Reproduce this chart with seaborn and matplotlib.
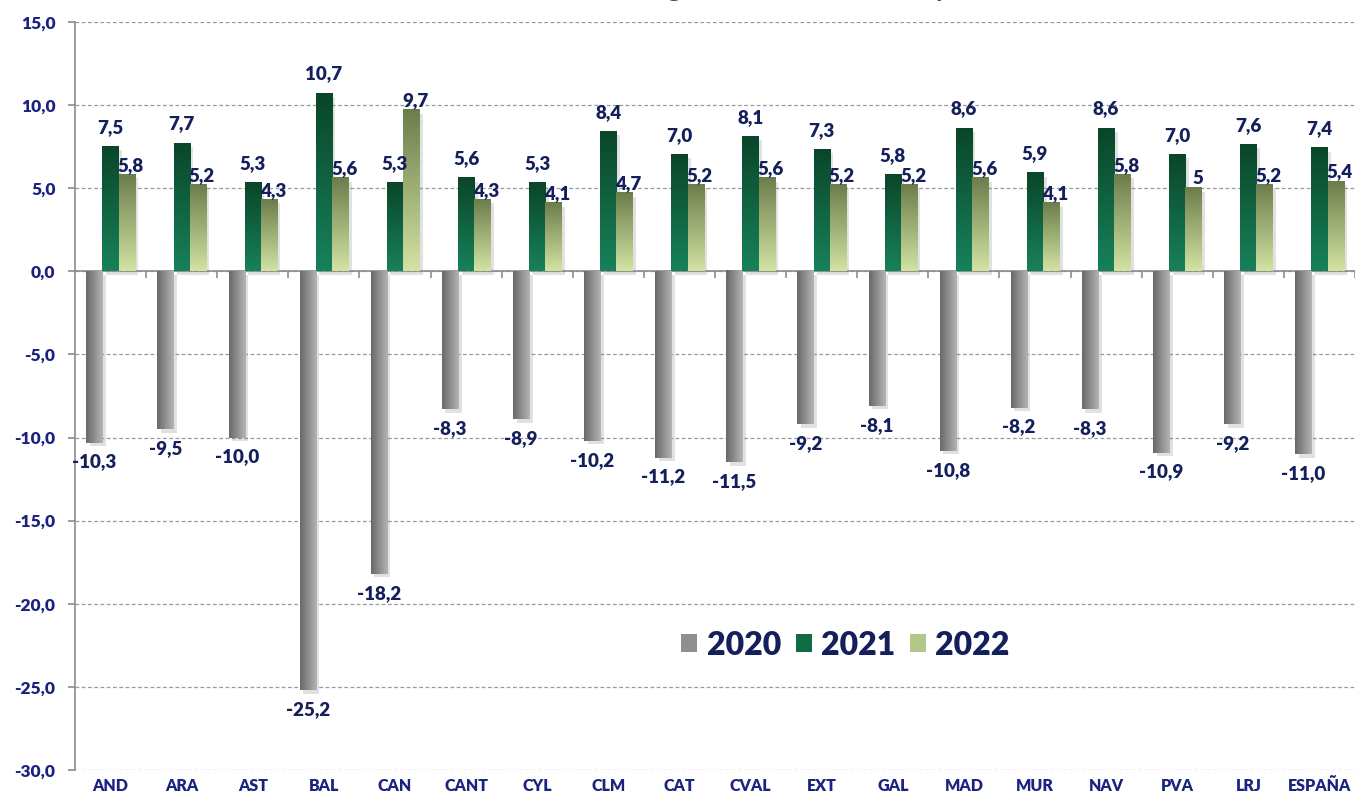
import numpy as np
import pandas as pd
import matplotlib
matplotlib.use("Agg")
import matplotlib.pyplot as plt
import matplotlib.patheffects as pe
from matplotlib.colors import LinearSegmentedColormap
from matplotlib.patches import Patch
import seaborn as sns

regiones = ["AND", "ARA", "AST", "BAL", "CAN", "CANT", "CYL", "CLM", "CAT",
            "CVAL", "EXT", "GAL", "MAD", "MUR", "NAV", "PVA", "LRJ", "ESPAÑA"]
years = ["2020", "2021", "2022"]
y2020 = [-10.3, -9.5, -10.0, -25.2, -18.2, -8.3, -8.9, -10.2, -11.2,
         -11.5, -9.2, -8.1, -10.8, -8.2, -8.3, -10.9, -9.2, -11.0]
y2021 = [7.5, 7.7, 5.3, 10.7, 5.3, 5.6, 5.3, 8.4, 7.0,
         8.1, 7.3, 5.8, 8.6, 5.9, 8.6, 7.0, 7.6, 7.4]
y2022 = [5.8, 5.2, 4.3, 5.6, 9.7, 4.3, 4.1, 4.7, 5.2,
         5.6, 5.2, 5.2, 5.6, 4.1, 5.8, 5.0, 5.2, 5.4]
yticks = [15, 10, 5, 0, -5, -10, -15, -20, -25, -30]
titulo = "Crecimiento económico regional en 2020, 2021 y 2022"


def fmt(v):
    return f"{v:.1f}".replace(".", ",")


lab20 = [fmt(v) for v in y2020]
lab21 = [fmt(v) for v in y2021]
lab22 = [fmt(v) for v in y2022]
lab22[15] = "5"  # en el original sale sin decimal

df = pd.DataFrame({
    "region": regiones * 3,
    "year": [y for y in years for _ in regiones],
    "valor": y2020 + y2021 + y2022,
})

sns.set_theme(style="white")
plt.rcParams["font.family"] = ["Lato", "DejaVu Sans"]

navy = "#14205c"
tickblue = "#1a2380"
axisgray = "#8c8c8c"
W = "heavy"

fig = plt.figure(figsize=(13.57, 7.96), dpi=100)
ax = fig.add_axes([75 / 1357, 26 / 796, 1280 / 1357, 748 / 796])

sns.barplot(data=df, x="region", y="valor", hue="year", hue_order=years,
            palette=["#8a8a8a", "#0f6b42", "#aabd7e"], width=0.68, gap=0,
            saturation=1, errorbar=None, legend=False, ax=ax)

# degradados como en Excel
cmaps = [LinearSegmentedColormap.from_list("g20", ["#686868", "#b5b5b5"]),
         LinearSegmentedColormap.from_list("g21", ["#0a4529", "#17825a"]),
         LinearSegmentedColormap.from_list("g22", ["#6c7d4b", "#d2e3a3"])]
grad_h = np.linspace(0, 1, 256).reshape(1, -1)
grad_v = np.linspace(0, 1, 256).reshape(-1, 1)
for i, cont in enumerate(ax.containers):
    for bar in cont:
        x0, w = bar.get_x(), bar.get_width()
        y0, h = bar.get_y(), bar.get_height()
        lo, hi = min(y0, y0 + h), max(y0, y0 + h)
        bar.set_facecolor("none")
        bar.set_linewidth(0)
        bar.set_path_effects([pe.SimplePatchShadow(offset=(2.5, -2.5), shadow_rgbFace="#7a7a7a", alpha=0.22)])
        img = grad_h if i == 0 else grad_v
        ax.imshow(img, cmap=cmaps[i], extent=[x0, x0 + w, lo, hi], origin="upper",
                  aspect="auto", interpolation="bicubic", zorder=3)

# etiquetas de datos
for i, (cont, labs) in enumerate(zip(ax.containers, [lab20, lab21, lab22])):
    for bar, txt in zip(cont, labs):
        xc = bar.get_x() + bar.get_width() / 2
        v = bar.get_y() + bar.get_height()
        if i == 0:
            off = (0, -14)
        elif i == 1:
            off = (0, 14)
        else:
            off = (3, 7)
        ax.annotate(txt, (xc, v), xytext=off, textcoords="offset points",
                    ha="center", va="center", fontsize=13.5, fontweight=W,
                    color=navy, zorder=5)

ax.set_xlim(-0.5, len(regiones) - 0.5)
ax.set_ylim(-30, 15)
ax.set_yticks(yticks)
ax.set_yticklabels([fmt(v) for v in yticks])
ax.set_xlabel("")
ax.set_ylabel("")

ax.set_axisbelow(True)
ax.yaxis.grid(True, linestyle=(0, (3, 2)), color="#9a9a9a", linewidth=0.9)
ax.axhline(0, color=axisgray, linewidth=1.2, zorder=2)
ax.vlines(np.arange(len(regiones)) + 0.5, -0.38, 0, color=axisgray, linewidth=1.2, zorder=2)

for s in ["top", "right", "bottom"]:
    ax.spines[s].set_visible(False)
ax.spines["left"].set_color(axisgray)
ax.spines["left"].set_linewidth(1.2)

ax.tick_params(axis="y", length=5, width=1.2, color=axisgray, pad=9, left=True,
               labelsize=12.5, labelcolor=tickblue)
ax.tick_params(axis="x", length=0, pad=6, labelsize=11.5, labelcolor=tickblue)
for t in ax.get_yticklabels() + ax.get_xticklabels():
    t.set_fontweight(W)

handles = [Patch(facecolor=c, edgecolor="none") for c in ["#8f8f8f", "#0f6b42", "#b3c78a"]]
ax.legend(handles, years, loc="center", bbox_to_anchor=(0.602, 0.167), ncol=3,
          frameon=False, handlelength=0.5, handleheight=0.5, handletextpad=0.3,
          columnspacing=0.45, prop={"size": 23, "weight": W}, labelcolor=navy)

fig.text(0.502, 1 + 4 / 796, titulo, ha="center", va="baseline", fontsize=20,
         fontweight="bold", color="#1f5a6a")

fig.savefig("out.png", dpi=100)
